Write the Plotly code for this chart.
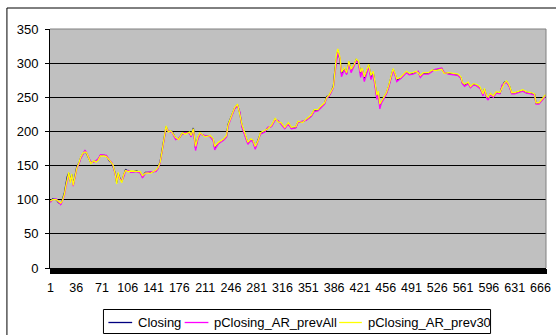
import plotly.graph_objects as go

# category index of each sampled point
x_idx = [1, 4, 9, 12, 15, 17, 20, 22, 24, 26,
         28, 30, 32, 34, 37, 40, 42, 45, 48, 50,
         53, 56, 60, 63, 66, 69, 74, 77, 81, 84,
         86, 89, 91, 93, 95, 98, 100, 103, 107, 110,
         114, 118, 123, 126, 130, 137, 144, 147, 150, 153,
         156, 158, 161, 164, 166, 171, 175, 180, 184, 190,
         192, 195, 198, 201, 204, 211, 218, 222, 224, 229,
         236, 240, 242, 247, 251, 255, 258, 261, 266, 269,
         273, 276, 279, 283, 286, 292, 296, 301, 306, 310,
         314, 319, 324, 328, 334, 337, 343, 348, 355, 359,
         364, 368, 373, 376, 379, 382, 385, 387, 389, 391,
         394, 396, 400, 403, 406, 409, 413, 416, 419, 422,
         424, 427, 430, 433, 436, 439, 442, 444, 446, 448,
         450, 453, 457, 460, 463, 466, 469, 471, 476, 481,
         484, 488, 493, 497, 500, 503, 507, 514, 519, 523,
         528, 532, 535, 541, 548, 554, 558, 560, 563, 568,
         571, 575, 579, 584, 586, 588, 590, 593, 595, 598,
         602, 606, 611, 614, 617, 620, 624, 627, 631, 637,
         642, 647, 653, 658, 660, 664, 668, 673]

closing = [97, 101, 100, 96, 94, 99, 110, 122, 134, 139,
           127, 137, 122, 132, 149, 154, 161, 167, 171, 168,
           161, 154, 156, 156, 159, 165, 165, 164, 157, 154,
           149, 139, 125, 139, 132, 127, 134, 144, 142, 141,
           141, 142, 140, 134, 140, 140, 142, 146, 156, 176,
           197, 207, 200, 200, 200, 190, 189, 197, 197, 198,
           193, 205, 176, 190, 197, 193, 193, 188, 176, 183,
           188, 193, 210, 224, 234, 239, 227, 208, 193, 183,
           188, 186, 176, 188, 197, 200, 205, 208, 218, 215,
           212, 205, 212, 205, 206, 214, 214, 217, 223, 231,
           231, 236, 241, 251, 252, 258, 266, 290, 309, 319,
           305, 285, 292, 285, 302, 290, 297, 305, 302, 285,
           292, 278, 287, 297, 280, 287, 266, 251, 258, 238,
           243, 249, 256, 266, 280, 291, 283, 275, 278, 283,
           287, 284, 285, 287, 287, 281, 285, 285, 289, 290,
           291, 292, 286, 285, 284, 283, 279, 271, 268, 271,
           265, 269, 268, 264, 259, 254, 262, 251, 249, 255,
           251, 257, 256, 266, 272, 273, 266, 256, 256, 258,
           260, 257, 256, 254, 241, 241, 246, 253]

p_prev_all = [96, 100, 101, 97, 93, 97, 106, 118, 130, 137,
              129, 134, 120, 130, 146, 153, 160, 166, 172, 169,
              162, 155, 155, 157, 160, 166, 166, 165, 158, 155,
              150, 137, 128, 136, 130, 129, 132, 142, 143, 140,
              140, 141, 139, 132, 139, 141, 141, 145, 154, 172,
              195, 205, 201, 199, 199, 188, 190, 196, 198, 197,
              192, 203, 172, 188, 196, 194, 192, 186, 173, 182,
              187, 192, 207, 222, 233, 238, 229, 206, 190, 181,
              187, 184, 174, 186, 196, 199, 206, 207, 217, 216,
              211, 204, 211, 204, 205, 213, 215, 216, 222, 229,
              230, 235, 240, 249, 251, 257, 264, 284, 304, 316,
              307, 280, 290, 283, 300, 286, 296, 303, 300, 279,
              290, 273, 284, 295, 276, 284, 262, 247, 255, 233,
              241, 247, 255, 264, 278, 289, 281, 273, 277, 282,
              286, 283, 284, 286, 288, 279, 284, 284, 288, 291,
              292, 293, 287, 284, 283, 282, 278, 270, 266, 270,
              264, 268, 267, 263, 258, 252, 261, 249, 246, 254,
              250, 256, 255, 268, 270, 272, 265, 255, 255, 257,
              259, 256, 255, 253, 240, 240, 245, 252]

p_prev_30 = [98, 100, 100, 97, 95, 98, 108, 120, 132, 140,
             125, 138, 121, 131, 147, 155, 162, 168, 170, 169,
             162, 153, 157, 155, 158, 164, 164, 163, 158, 153,
             151, 138, 123, 140, 131, 125, 135, 143, 141, 142,
             142, 141, 141, 135, 139, 139, 143, 147, 155, 174,
             198, 208, 199, 201, 199, 191, 188, 198, 196, 199,
             194, 204, 178, 191, 198, 192, 194, 189, 178, 184,
             189, 194, 209, 225, 235, 240, 226, 210, 194, 184,
             189, 187, 178, 187, 198, 201, 204, 209, 219, 214,
             213, 206, 213, 206, 207, 215, 213, 218, 224, 232,
             232, 237, 242, 250, 253, 259, 265, 287, 311, 321,
             308, 287, 293, 286, 303, 291, 298, 306, 303, 287,
             293, 280, 288, 298, 282, 288, 268, 253, 259, 240,
             244, 250, 257, 267, 281, 292, 284, 277, 279, 284,
             288, 285, 286, 288, 286, 282, 286, 286, 290, 289,
             290, 291, 285, 286, 285, 284, 280, 272, 269, 272,
             266, 270, 269, 265, 260, 255, 263, 252, 250, 256,
             252, 258, 257, 265, 271, 274, 267, 257, 257, 259,
             261, 258, 257, 255, 242, 242, 247, 254]

n_categories = 673
x_tick_vals = [1, 36, 71, 106, 141, 176, 211, 246, 281, 316, 351, 386,
               421, 456, 491, 526, 561, 596, 631, 666]
x_tick_text = [str(v) for v in x_tick_vals]
y_tick_vals = [0, 50, 100, 150, 200, 250, 300, 350]

series_names = ["Closing", "pClosing_AR_prevAll", "pClosing_AR_prev30"]
series_values = [closing, p_prev_all, p_prev_30]
series_colors = ["#000080", "#FF00FF", "#FFFF00"]

FONT = "Liberation Sans, Arial, sans-serif"

# plot area in pixels (for converting legend placement to paper coords)
W, H = 556, 335
ML, MR, MT, MB = 50, 5, 29, 67
PW, PH = W - ML - MR, H - MT - MB


def px_x(px):
    return (px - ML) / PW


def px_y(py):
    return (H - MB - py) / PH


fig = go.Figure()
for name, vals, color in zip(series_names, series_values, series_colors):
    fig.add_trace(go.Scatter(x=x_idx, y=vals, name=name, mode="lines",
                             line=dict(color=color, width=1.3),
                             showlegend=False))

# invisible trace carrying the per-category tick axis
fig.add_trace(go.Scatter(x=[1], y=[None], xaxis="x2", yaxis="y",
                         mode="lines", showlegend=False, hoverinfo="skip"))

# hand-placed legend (Excel style box at bottom)
legend_box = dict(x0=104, x1=495, y0=309.5, y1=333.5)
legend_lines = [(109, 133), (186, 210), (342, 365)]
legend_text_x = [137, 214, 369]
legend_mid_y = 322.5

shapes = [
    dict(type="line", xref="paper", yref="paper", x0=0, x1=1, y0=1, y1=1,
         line=dict(color="#808080", width=1), layer="above"),
    dict(type="line", xref="paper", yref="paper", x0=1, x1=1, y0=0, y1=1,
         line=dict(color="#808080", width=1), layer="above"),
    dict(type="rect", xref="paper", yref="paper",
         x0=px_x(6.5), x1=px_x(600), y0=px_y(400), y1=px_y(8),
         line=dict(color="black", width=1), fillcolor="rgba(0,0,0,0)",
         layer="above"),
    dict(type="rect", xref="paper", yref="paper",
         x0=px_x(legend_box["x0"]), x1=px_x(legend_box["x1"]),
         y0=px_y(legend_box["y1"]), y1=px_y(legend_box["y0"]),
         line=dict(color="black", width=1), fillcolor="white", layer="above"),
]
annotations = []
for (lx0, lx1), tx, name, color in zip(legend_lines, legend_text_x,
                                       series_names, series_colors):
    shapes.append(dict(type="line", xref="paper", yref="paper",
                       x0=px_x(lx0), x1=px_x(lx1),
                       y0=px_y(legend_mid_y), y1=px_y(legend_mid_y),
                       line=dict(color=color, width=1.3), layer="above"))
    annotations.append(dict(xref="paper", yref="paper", x=px_x(tx),
                            y=px_y(legend_mid_y), xanchor="left",
                            yanchor="middle", text=name, showarrow=False,
                            font=dict(size=13, color="black", family=FONT)))

fig.update_layout(
    width=W, height=H,
    margin=dict(l=ML, r=MR, t=MT, b=MB),
    paper_bgcolor="white",
    plot_bgcolor="#C0C0C0",
    font=dict(family=FONT, size=13, color="black"),
    showlegend=False,
    xaxis=dict(range=[0.5, n_categories + 0.5], tickmode="array",
               tickvals=x_tick_vals, ticktext=x_tick_text,
               showgrid=False, zeroline=False, showline=True,
               linecolor="black", linewidth=1,
               ticks="", tickfont=dict(size=12.5), ticklabelstandoff=8),
    xaxis2=dict(range=[0.5, n_categories + 0.5], overlaying="x", anchor="y",
                side="bottom", tickmode="linear", tick0=0.5, dtick=1,
                ticks="outside", ticklen=5, tickcolor="black", tickwidth=1,
                showticklabels=False, showgrid=False, zeroline=False,
                showline=False),
    yaxis=dict(range=[0, 350], tickvals=y_tick_vals,
               showgrid=True, gridcolor="black", gridwidth=1,
               zeroline=False, showline=True, linecolor="black", linewidth=1,
               ticks="outside", ticklen=4, tickcolor="black",
               tickfont=dict(size=13), ticklabelstandoff=4),
    shapes=shapes,
    annotations=annotations,
)

fig.write_html("out.html")
